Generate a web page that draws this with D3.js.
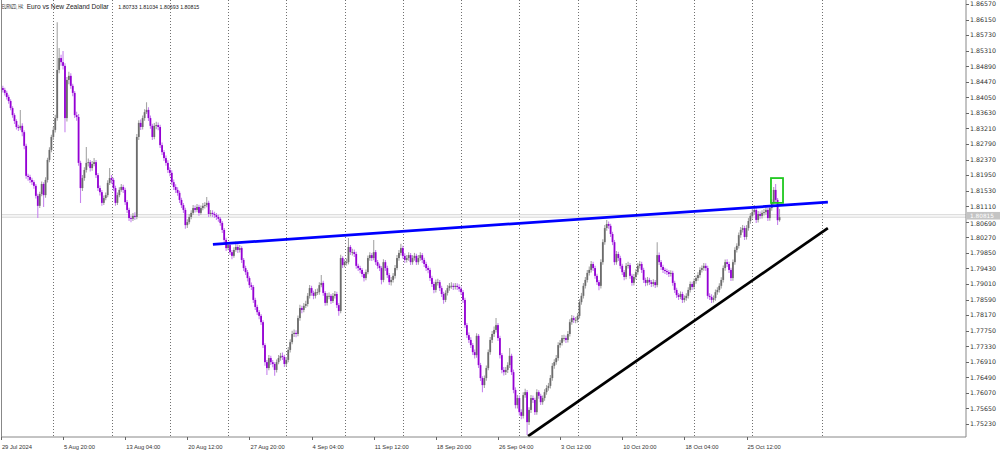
<!DOCTYPE html>
<html><head><meta charset="utf-8">
<script src="https://cdn.jsdelivr.net/npm/d3@7"></script>
<style>html,body{margin:0;padding:0;background:#fff;overflow:hidden}</style>
</head><body><svg id="c" width="1000" height="452"></svg>
<script>
// ---------- data ----------
const symbolTitle = "EURNZD, H4:";
const symbolName = "Euro vs New Zealand Dollar";
const lastOHLC = [1.80733, 1.81034, 1.80693, 1.80815];
const firstBarTime = "2024-07-29T12:00:00";
const firstOpen = 1.8438;
const closes = [
1.8430,1.8425,1.8417,1.8406,1.8395,1.8376,1.8357,1.8341,1.8325,1.8322,
1.8328,1.8311,1.8274,1.8193,1.8190,1.8182,1.8176,1.8166,1.8139,1.8112,
1.8144,1.8171,1.8141,1.8182,1.8236,1.8263,1.8298,1.8317,1.8349,1.8479,
1.8511,1.8500,1.8490,1.8349,1.8452,1.8463,1.8436,1.8417,1.8357,1.8352,
1.8228,1.8160,1.8187,1.8209,1.8228,1.8230,1.8214,1.8225,1.8230,1.8195,
1.8160,1.8149,1.8120,1.8133,1.8141,1.8174,1.8187,1.8182,1.8160,1.8120,
1.8141,1.8155,1.8163,1.8155,1.8122,1.8101,1.8079,1.8077,1.8085,1.8082,
1.8298,1.8336,1.8325,1.8349,1.8365,1.8371,1.8349,1.8328,1.8298,1.8328,
1.8330,1.8325,1.8276,1.8257,1.8241,1.8228,1.8209,1.8201,1.8176,1.8163,
1.8155,1.8147,1.8128,1.8114,1.8101,1.8060,1.8068,1.8082,1.8093,1.8106,
1.8101,1.8109,1.8093,1.8106,1.8112,1.8114,1.8120,1.8090,1.8093,1.8090,
1.8087,1.8082,1.8077,1.8066,1.8047,1.8020,1.7998,1.8006,1.7987,1.7977,
1.7993,1.8001,1.7993,1.7998,1.7966,1.7944,1.7933,1.7917,1.7898,1.7893,
1.7858,1.7839,1.7825,1.7815,1.7798,1.7736,1.7690,1.7674,1.7701,1.7690,
1.7685,1.7669,1.7690,1.7701,1.7707,1.7704,1.7685,1.7696,1.7723,1.7744,
1.7766,1.7769,1.7766,1.7809,1.7836,1.7831,1.7842,1.7847,1.7869,1.7890,
1.7877,1.7869,1.7879,1.7879,1.7898,1.7904,1.7877,1.7850,1.7869,1.7869,
1.7855,1.7869,1.7874,1.7844,1.7828,1.7971,1.7952,1.7960,1.7960,1.8001,
1.7987,1.7987,1.7982,1.7950,1.7944,1.7939,1.7928,1.7917,1.7933,1.7971,
1.7979,1.7971,1.7987,1.7960,1.7950,1.7944,1.7912,1.7960,1.7944,1.7925,
1.7906,1.7912,1.7923,1.7944,1.7971,1.7985,1.7998,1.7977,1.7966,1.7971,
1.7979,1.7960,1.7971,1.7977,1.7960,1.7971,1.7979,1.7966,1.7955,1.7944,
1.7939,1.7917,1.7901,1.7885,1.7906,1.7906,1.7890,1.7874,1.7858,1.7877,
1.7890,1.7896,1.7896,1.7893,1.7896,1.7893,1.7888,1.7879,1.7858,1.7790,
1.7763,1.7750,1.7736,1.7717,1.7709,1.7761,1.7682,1.7647,1.7628,1.7647,
1.7674,1.7717,1.7750,1.7766,1.7777,1.7790,1.7755,1.7709,1.7669,1.7663,
1.7669,1.7682,1.7707,1.7663,1.7615,1.7574,1.7593,1.7555,1.7545,1.7601,
1.7609,1.7528,1.7561,1.7593,1.7588,1.7555,1.7609,1.7599,1.7582,1.7593,
1.7609,1.7620,1.7626,1.7647,1.7680,1.7690,1.7701,1.7736,1.7742,1.7755,
1.7755,1.7750,1.7766,1.7798,1.7809,1.7804,1.7804,1.7815,1.7852,1.7869,
1.7896,1.7912,1.7931,1.7939,1.7955,1.7944,1.7923,1.7906,1.7896,1.7960,
1.8014,1.8052,1.8063,1.8058,1.8036,1.8014,1.7960,1.7982,1.7971,1.7950,
1.7933,1.7920,1.7950,1.7952,1.7923,1.7904,1.7920,1.7933,1.7950,1.7955,
1.7939,1.7912,1.7904,1.7912,1.7906,1.7901,1.7906,1.7898,1.7979,1.7960,
1.7947,1.7939,1.7936,1.7933,1.7928,1.7931,1.7904,1.7885,1.7871,1.7866,
1.7874,1.7858,1.7863,1.7869,1.7885,1.7901,1.7893,1.7909,1.7917,1.7925,
1.7939,1.7944,1.7950,1.7944,1.7869,1.7866,1.7858,1.7863,1.7879,1.7885,
1.7896,1.7912,1.7944,1.7960,1.7955,1.7939,1.7917,1.7960,1.7993,1.8004,
1.8033,1.8047,1.8052,1.8028,1.8052,1.8071,1.8085,1.8095,1.8101,1.8074,
1.8090,1.8085,1.8093,1.8095,1.8101,1.8079,1.8106,1.8122,1.8155,1.8128,
1.80733,1.80815];
const highs = [
1.8452,1.8436,1.8431,1.8423,1.8412,1.8400,1.8381,1.8362,1.8346,1.8331,
1.8371,1.8335,1.8316,1.8280,1.8199,1.8196,1.8188,1.8181,1.8171,1.8145,
1.8150,1.8178,1.8176,1.8189,1.8242,1.8270,1.8304,1.8325,1.8358,1.8608,
1.8538,1.8520,1.8530,1.8497,1.8460,1.8474,1.8470,1.8442,1.8422,1.8366,
1.8360,1.8234,1.8195,1.8216,1.8271,1.8240,1.8236,1.8233,1.8241,1.8236,
1.8201,1.8167,1.8155,1.8140,1.8148,1.8181,1.8214,1.8195,1.8188,1.8166,
1.8148,1.8162,1.8171,1.8169,1.8161,1.8128,1.8107,1.8086,1.8093,1.8095,
1.8306,1.8343,1.8345,1.8356,1.8373,1.8392,1.8378,1.8356,1.8334,1.8336,
1.8339,1.8337,1.8331,1.8283,1.8263,1.8248,1.8235,1.8216,1.8208,1.8183,
1.8170,1.8162,1.8153,1.8134,1.8120,1.8107,1.8076,1.8090,1.8100,1.8114,
1.8113,1.8117,1.8115,1.8113,1.8120,1.8122,1.8136,1.8126,1.8101,1.8100,
1.8096,1.8093,1.8088,1.8082,1.8071,1.8052,1.8026,1.8013,1.8011,1.7993,
1.8000,1.8016,1.8008,1.8006,1.8003,1.7971,1.7950,1.7939,1.7922,1.7905,
1.7898,1.7864,1.7845,1.7831,1.7820,1.7803,1.7741,1.7696,1.7709,1.7707,
1.7696,1.7690,1.7697,1.7709,1.7715,1.7716,1.7710,1.7704,1.7731,1.7752,
1.7775,1.7778,1.7776,1.7816,1.7845,1.7842,1.7850,1.7856,1.7877,1.7898,
1.7896,1.7883,1.7887,1.7889,1.7906,1.7925,1.7910,1.7882,1.7877,1.7878,
1.7874,1.7877,1.7882,1.7880,1.7850,1.7980,1.7976,1.7968,1.7970,1.8025,
1.8006,1.7996,1.7994,1.7988,1.7956,1.7950,1.7944,1.7933,1.7940,1.7978,
1.7987,1.7985,1.8020,1.7993,1.7966,1.7956,1.7949,1.7968,1.7966,1.7950,
1.7931,1.7920,1.7931,1.7952,1.7979,1.7993,1.8010,1.8004,1.7984,1.7979,
1.7987,1.7985,1.7979,1.7985,1.7983,1.7979,1.7987,1.7985,1.7972,1.7961,
1.7950,1.7945,1.7923,1.7907,1.7913,1.7915,1.7912,1.7896,1.7880,1.7884,
1.7898,1.7904,1.7906,1.7903,1.7904,1.7903,1.7900,1.7894,1.7885,1.7864,
1.7796,1.7770,1.7757,1.7742,1.7724,1.7768,1.7766,1.7688,1.7652,1.7654,
1.7681,1.7724,1.7758,1.7774,1.7786,1.7809,1.7796,1.7761,1.7715,1.7677,
1.7677,1.7690,1.7728,1.7713,1.7670,1.7622,1.7601,1.7600,1.7563,1.7609,
1.7618,1.7615,1.7568,1.7601,1.7600,1.7594,1.7617,1.7614,1.7605,1.7600,
1.7617,1.7628,1.7634,1.7655,1.7688,1.7698,1.7709,1.7744,1.7750,1.7763,
1.7764,1.7762,1.7774,1.7806,1.7817,1.7815,1.7812,1.7823,1.7860,1.7877,
1.7904,1.7920,1.7939,1.7948,1.7963,1.7961,1.7950,1.7929,1.7912,1.7968,
1.8022,1.8060,1.8074,1.8070,1.8064,1.8042,1.8020,1.7990,1.7988,1.7977,
1.7956,1.7939,1.7958,1.7961,1.7958,1.7929,1.7928,1.7941,1.7958,1.7963,
1.7961,1.7945,1.7918,1.7920,1.7918,1.7912,1.7914,1.7912,1.8014,1.7986,
1.7966,1.7953,1.7945,1.7942,1.7939,1.7938,1.7937,1.7910,1.7891,1.7877,
1.7881,1.7880,1.7870,1.7876,1.7892,1.7908,1.7907,1.7916,1.7924,1.7933,
1.7946,1.7951,1.7958,1.7957,1.7950,1.7876,1.7873,1.7870,1.7886,1.7892,
1.7903,1.7919,1.7951,1.7967,1.7968,1.7961,1.7945,1.7967,1.8000,1.8011,
1.8040,1.8055,1.8060,1.8058,1.8060,1.8079,1.8093,1.8104,1.8114,1.8108,
1.8098,1.8097,1.8100,1.8104,1.8110,1.8107,1.8113,1.8130,1.8163,1.8171,
1.8133,1.81034];
const lows = [
1.8424,1.8418,1.8410,1.8399,1.8388,1.8370,1.8350,1.8333,1.8318,1.8314,
1.8316,1.8300,1.8265,1.8185,1.8180,1.8174,1.8168,1.8158,1.8132,1.8079,
1.8106,1.8138,1.8109,1.8134,1.8175,1.8230,1.8257,1.8290,1.8310,1.8342,
1.8470,1.8490,1.8480,1.8311,1.8340,1.8440,1.8428,1.8408,1.8349,1.8342,
1.8220,1.8120,1.8152,1.8180,1.8202,1.8218,1.8205,1.8207,1.8219,1.8187,
1.8152,1.8140,1.8112,1.8114,1.8127,1.8135,1.8168,1.8172,1.8152,1.8112,
1.8114,1.8135,1.8150,1.8147,1.8114,1.8093,1.8071,1.8068,1.8071,1.8074,
1.8076,1.8290,1.8317,1.8318,1.8342,1.8360,1.8341,1.8320,1.8290,1.8292,
1.8319,1.8316,1.8268,1.8249,1.8233,1.8220,1.8201,1.8192,1.8168,1.8155,
1.8147,1.8139,1.8120,1.8106,1.8093,1.8050,1.8052,1.8062,1.8076,1.8087,
1.8094,1.8095,1.8085,1.8088,1.8100,1.8105,1.8108,1.8082,1.8083,1.8082,
1.8079,1.8074,1.8069,1.8058,1.8039,1.8012,1.7990,1.7992,1.7979,1.7968,
1.7972,1.7988,1.7985,1.7986,1.7958,1.7936,1.7925,1.7908,1.7890,1.7885,
1.7850,1.7831,1.7817,1.7806,1.7790,1.7728,1.7680,1.7655,1.7668,1.7682,
1.7676,1.7653,1.7662,1.7684,1.7694,1.7696,1.7677,1.7678,1.7690,1.7716,
1.7738,1.7758,1.7757,1.7760,1.7802,1.7822,1.7825,1.7836,1.7840,1.7862,
1.7869,1.7860,1.7862,1.7871,1.7872,1.7892,1.7869,1.7842,1.7843,1.7860,
1.7847,1.7850,1.7862,1.7836,1.7815,1.7822,1.7944,1.7946,1.7951,1.7954,
1.7979,1.7978,1.7974,1.7942,1.7936,1.7930,1.7920,1.7908,1.7911,1.7927,
1.7964,1.7963,1.7965,1.7952,1.7942,1.7936,1.7900,1.7906,1.7936,1.7917,
1.7898,1.7897,1.7905,1.7916,1.7938,1.7964,1.7978,1.7969,1.7958,1.7959,
1.7964,1.7952,1.7953,1.7964,1.7952,1.7953,1.7964,1.7958,1.7947,1.7936,
1.7930,1.7909,1.7893,1.7876,1.7878,1.7897,1.7882,1.7866,1.7848,1.7852,
1.7870,1.7883,1.7888,1.7885,1.7886,1.7885,1.7880,1.7871,1.7850,1.7782,
1.7755,1.7742,1.7728,1.7709,1.7700,1.7702,1.7674,1.7639,1.7609,1.7620,
1.7640,1.7668,1.7710,1.7742,1.7758,1.7770,1.7747,1.7700,1.7660,1.7654,
1.7655,1.7661,1.7674,1.7655,1.7606,1.7565,1.7565,1.7546,1.7536,1.7538,
1.7594,1.7493,1.7520,1.7553,1.7580,1.7547,1.7548,1.7591,1.7574,1.7575,
1.7586,1.7602,1.7613,1.7619,1.7640,1.7672,1.7683,1.7694,1.7729,1.7735,
1.7746,1.7742,1.7743,1.7759,1.7791,1.7796,1.7795,1.7797,1.7808,1.7845,
1.7862,1.7889,1.7905,1.7924,1.7932,1.7936,1.7915,1.7898,1.7884,1.7889,
1.7953,1.8007,1.8045,1.8050,1.8028,1.8006,1.7952,1.7953,1.7963,1.7942,
1.7925,1.7911,1.7914,1.7943,1.7915,1.7896,1.7897,1.7913,1.7926,1.7943,
1.7931,1.7904,1.7895,1.7897,1.7898,1.7893,1.7894,1.7890,1.7892,1.7952,
1.7939,1.7931,1.7928,1.7925,1.7920,1.7921,1.7896,1.7877,1.7863,1.7858,
1.7860,1.7850,1.7851,1.7856,1.7862,1.7878,1.7885,1.7886,1.7902,1.7910,
1.7918,1.7932,1.7937,1.7936,1.7861,1.7858,1.7850,1.7851,1.7856,1.7872,
1.7878,1.7889,1.7905,1.7937,1.7947,1.7931,1.7909,1.7910,1.7953,1.7986,
1.7997,1.8026,1.8040,1.8020,1.8021,1.8045,1.8064,1.8078,1.8088,1.8066,
1.8067,1.8077,1.8078,1.8086,1.8088,1.8071,1.8072,1.8099,1.8115,1.8120,
1.8060,1.80693];
const priceTicks = [1.86570,1.86150,1.85730,1.85310,1.84890,1.84470,1.84050,1.83630,1.83210,1.82790,
  1.82370,1.81950,1.81530,1.81110,1.80690,1.80270,1.79850,1.79430,1.79010,1.78590,
  1.78170,1.77750,1.77330,1.76910,1.76490,1.76070,1.75650,1.75230];
const bidPrice = 1.80815;
const askPrice = 1.80880;
const xLabelTimes = ["2024-07-29 12:00","2024-08-05 20:00","2024-08-13 04:00","2024-08-20 12:00",
  "2024-08-27 20:00","2024-09-04 04:00","2024-09-11 12:00","2024-09-18 20:00","2024-09-26 04:00",
  "2024-10-03 12:00","2024-10-10 20:00","2024-10-18 04:00","2024-10-25 12:00"];
// extra vertical dotted marker (bar index, right of the last bar)
const extraMarkerBars = [422.8];
// trend lines: [bar index, price]
const resistanceLine = [[109.2, 1.8008], [425.9, 1.8122]];
const supportLine = [[271.5, 1.7490], [425.9, 1.8052]];
// highlight box: [from bar, to bar, top price, bottom price]
const highlightBox = [396.6, 402.8, 1.8187, 1.8120];

// ---------- build ----------
const N = closes.length;
const opens = [firstOpen].concat(closes.slice(0, N - 1));
const times = [];
{
  let t = new Date(firstBarTime);
  while (times.length < N) {
    const d = t.getDay();
    if (d !== 0 && d !== 6) times.push(new Date(t));
    t = new Date(t.getTime() + 4 * 3600 * 1000);
  }
}
const bars = closes.map((c, i) => ({i, t: times[i], o: opens[i], h: highs[i], l: lows[i], c}));

const W = 1000, H = 452;
const L = 1.5, R = 966, T = 0, B = 437;
const x = d3.scaleLinear().domain([0, N - 1]).range([0.9, 0.9 + (N - 1) * 1.9417]);
const y = d3.scaleLinear().domain([1.74879, 1.86678]).range([B, T]);

const svg = d3.select("#c");
svg.append("rect").attr("width", W).attr("height", H).attr("fill", "#fff");
svg.append("defs").append("clipPath").attr("id", "clip")
  .append("rect").attr("x", L).attr("y", T).attr("width", R - L).attr("height", B - T);

const plot = svg.append("g").attr("clip-path", "url(#clip)");

// weekly separators
const fmtKey = d3.timeFormat("%Y-%m-%d %H:%M");
const sepIdx = bars.filter(b => b.t.getDay() === 1 && b.t.getHours() === 0).map(b => b.i)
  .concat(extraMarkerBars);
plot.selectAll("line.sep").data(sepIdx).join("line")
  .attr("x1", d => Math.round(x(d)) + 0.5).attr("x2", d => Math.round(x(d)) + 0.5)
  .attr("y1", T).attr("y2", B)
  .attr("stroke", "#707070").attr("stroke-width", 1).attr("stroke-dasharray", "1,2");

// bid / ask lines
plot.selectAll("line.ba").data([askPrice, bidPrice]).join("line")
  .attr("x1", L).attr("x2", R).attr("y1", d => y(d)).attr("y2", d => y(d))
  .attr("stroke", "#d4d4d4").attr("stroke-width", 1);

// candles
const up = "#6c6c6c", dn = "#9400d3", upW = "#a6a6a6", dnW = "#c784ee";
const cg = plot.append("g");
cg.selectAll("line.w").data(bars).join("line")
  .attr("x1", d => x(d.i)).attr("x2", d => x(d.i))
  .attr("y1", d => y(d.h)).attr("y2", d => y(d.l))
  .attr("stroke", d => d.c >= d.o ? upW : dnW).attr("stroke-width", 1.1);
cg.selectAll("rect.b").data(bars).join("rect")
  .attr("x", d => x(d.i) - 0.9).attr("width", 1.8)
  .attr("y", d => y(Math.max(d.o, d.c)))
  .attr("height", d => Math.max(0.9, Math.abs(y(d.o) - y(d.c))))
  .attr("fill", d => d.c >= d.o ? up : dn);

// trend lines
const lineGen = d3.line().x(d => x(d[0])).y(d => y(d[1]));
plot.append("path").attr("d", lineGen(resistanceLine)).attr("fill", "none")
  .attr("stroke", "#0000ff").attr("stroke-width", 2.7);
plot.append("path").attr("d", lineGen(supportLine)).attr("fill", "none")
  .attr("stroke", "#000").attr("stroke-width", 2.7);

// highlight box
plot.append("rect")
  .attr("x", x(highlightBox[0])).attr("width", x(highlightBox[1]) - x(highlightBox[0]))
  .attr("y", y(highlightBox[2])).attr("height", y(highlightBox[3]) - y(highlightBox[2]))
  .attr("fill", "none").attr("stroke", "#1fc81f").attr("stroke-width", 1.8);

// frame
svg.append("path").attr("d", `M${L},${T}V${B}H${R}V${T}`).attr("fill", "none")
  .attr("stroke", "#888").attr("stroke-width", 1);

// price axis
const boxTop = y(bidPrice) - 5.2, boxBot = y(bidPrice) + 2.4;
const labelY = d => {
  const yy = y(d) + 2.3;
  return (yy > boxTop - 1 && yy < boxBot + 6) ? boxBot + 6.6 : yy;
};
const pa = svg.append("g");
pa.selectAll("line").data(priceTicks).join("line")
  .attr("x1", R).attr("x2", R + 3).attr("y1", d => Math.round(y(d)) + 0.5).attr("y2", d => Math.round(y(d)) + 0.5)
  .attr("stroke", "#666");
pa.selectAll("text").data(priceTicks).join("text")
  .attr("x", 970).attr("y", labelY)
  .attr("font-family", "DejaVu Sans").attr("font-size", 6.3).attr("fill", "#333")
  .text(d => d.toFixed(5));
// current price box
pa.append("rect").attr("x", R + 1).attr("y", boxTop).attr("width", W - R - 1).attr("height", boxBot - boxTop)
  .attr("fill", "#c4c4c4");
pa.append("text").attr("x", 970).attr("y", boxBot - 1.5)
  .attr("font-family", "DejaVu Sans").attr("font-size", 5.8).attr("fill", "#fff")
  .text(bidPrice.toFixed(5));

// time axis
const labIdx = xLabelTimes.map(s => bars.findIndex(b => fmtKey(b.t) === s));
const fmtFirst = d3.timeFormat("%-d %b %Y"), fmtOther = d3.timeFormat("%-d %b %H:%M");
const ta = svg.append("g");
ta.selectAll("line").data(labIdx).join("line")
  .attr("x1", d => Math.round(x(d)) + 0.5).attr("x2", d => Math.round(x(d)) + 0.5)
  .attr("y1", B).attr("y2", B + 3).attr("stroke", "#666");
ta.selectAll("text").data(labIdx).join("text")
  .attr("x", d => x(d) + 1).attr("y", 448.5)
  .attr("font-family", "Liberation Sans").attr("font-size", 5.8).attr("fill", "#333")
  .text((d, k) => k === 0 ? fmtFirst(bars[d].t) : fmtOther(bars[d].t));

// header
const hdr = svg.append("g").attr("font-family", "Liberation Sans").attr("fill", "#222");
hdr.append("text").attr("transform", "translate(2,8.5) scale(0.52,1)")
  .attr("font-size", 6.6).text(symbolTitle);
hdr.append("text").attr("x", 26.7).attr("y", 8.5).attr("font-size", 6.6).text(symbolName);
hdr.append("text").attr("x", 118.3).attr("y", 8.5).attr("font-size", 5.3)
  .text(lastOHLC.map(v => v.toFixed(5)).join(" "));
</script></body></html>
